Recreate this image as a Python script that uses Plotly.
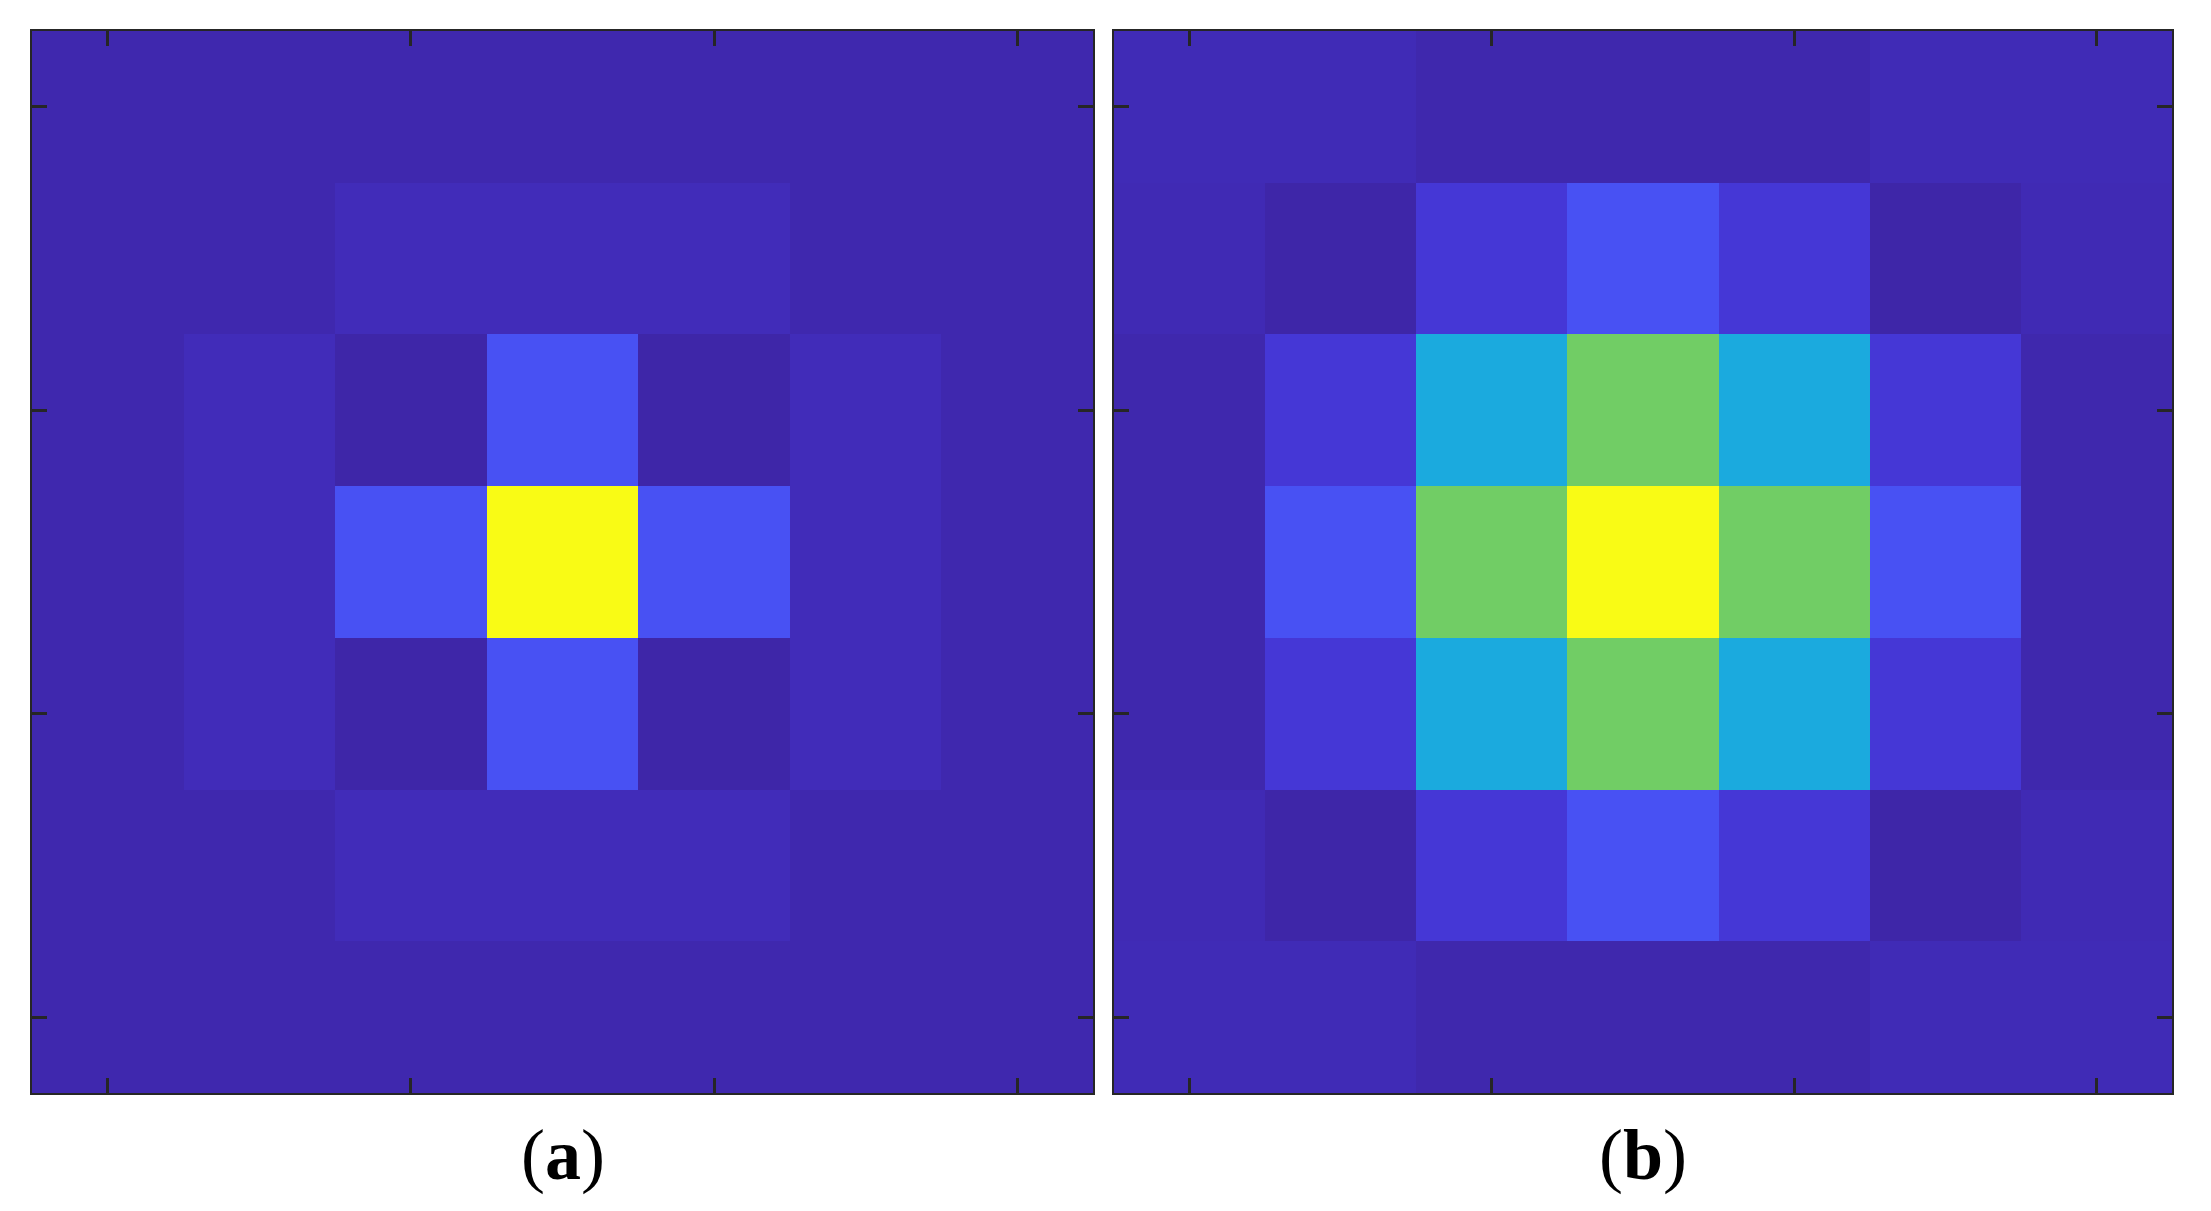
import plotly.graph_objects as go

# MATLAB parula (64 steps)
PARULA = [
    (0.2422, 0.1504, 0.6603), (0.2504, 0.1650, 0.7076), (0.2578, 0.1818, 0.7511),
    (0.2647, 0.1978, 0.7952), (0.2706, 0.2147, 0.8364), (0.2751, 0.2342, 0.8710),
    (0.2783, 0.2559, 0.8991), (0.2803, 0.2782, 0.9221), (0.2813, 0.3006, 0.9414),
    (0.2810, 0.3228, 0.9579), (0.2795, 0.3447, 0.9717), (0.2760, 0.3667, 0.9829),
    (0.2699, 0.3892, 0.9906), (0.2602, 0.4123, 0.9952), (0.2440, 0.4358, 0.9988),
    (0.2206, 0.4603, 0.9973), (0.1963, 0.4847, 0.9892), (0.1834, 0.5074, 0.9798),
    (0.1786, 0.5289, 0.9682), (0.1764, 0.5499, 0.9520), (0.1687, 0.5703, 0.9359),
    (0.1540, 0.5902, 0.9218), (0.1460, 0.6091, 0.9079), (0.1380, 0.6276, 0.8973),
    (0.1248, 0.6459, 0.8883), (0.1113, 0.6635, 0.8763), (0.0952, 0.6798, 0.8598),
    (0.0689, 0.6948, 0.8394), (0.0297, 0.7082, 0.8163), (0.0036, 0.7203, 0.7917),
    (0.0067, 0.7312, 0.7660), (0.0433, 0.7411, 0.7394), (0.0964, 0.7500, 0.7120),
    (0.1408, 0.7584, 0.6842), (0.1717, 0.7670, 0.6554), (0.1938, 0.7758, 0.6251),
    (0.2161, 0.7843, 0.5923), (0.2470, 0.7918, 0.5567), (0.2906, 0.7973, 0.5188),
    (0.3406, 0.8008, 0.4789), (0.3909, 0.8029, 0.4354), (0.4456, 0.8024, 0.3909),
    (0.5044, 0.7993, 0.3480), (0.5616, 0.7942, 0.3045), (0.6174, 0.7876, 0.2612),
    (0.6720, 0.7793, 0.2227), (0.7242, 0.7698, 0.1910), (0.7738, 0.7598, 0.1646),
    (0.8203, 0.7498, 0.1535), (0.8634, 0.7406, 0.1596), (0.9035, 0.7330, 0.1774),
    (0.9393, 0.7288, 0.2100), (0.9728, 0.7298, 0.2394), (0.9956, 0.7434, 0.2371),
    (0.9970, 0.7659, 0.2199), (0.9952, 0.7893, 0.2028), (0.9892, 0.8136, 0.1885),
    (0.9786, 0.8386, 0.1766), (0.9676, 0.8639, 0.1643), (0.9610, 0.8890, 0.1537),
    (0.9597, 0.9135, 0.1423), (0.9628, 0.9373, 0.1265), (0.9691, 0.9606, 0.1064),
    (0.9769, 0.9839, 0.0805),
]
colorscale = [
    [i / (len(PARULA) - 1), "rgb(%d,%d,%d)" % tuple(round(c * 255) for c in rgb)]
    for i, rgb in enumerate(PARULA)
]

# grid coordinates (1..7) and tick positions
cols = [1, 2, 3, 4, 5, 6, 7]
rows = [1, 2, 3, 4, 5, 6, 7]
tick_vals = [1, 3, 5, 7]
panel_labels = ["(<b>a</b>)", "(<b>b</b>)"]

# panel (a) - normalised intensity, top row first
z_a = [
    [0.008, 0.008, 0.008, 0.008, 0.008, 0.008, 0.008],
    [0.008, 0.008, 0.022, 0.022, 0.022, 0.008, 0.008],
    [0.008, 0.022, 0.000, 0.140, 0.000, 0.022, 0.008],
    [0.008, 0.022, 0.140, 1.000, 0.140, 0.022, 0.008],
    [0.008, 0.022, 0.000, 0.140, 0.000, 0.022, 0.008],
    [0.008, 0.008, 0.022, 0.022, 0.022, 0.008, 0.008],
    [0.008, 0.008, 0.008, 0.008, 0.008, 0.008, 0.008],
]

# panel (b)
z_b = [
    [0.018, 0.018, 0.006, 0.006, 0.006, 0.018, 0.018],
    [0.016, 0.000, 0.065, 0.140, 0.065, 0.000, 0.016],
    [0.006, 0.065, 0.400, 0.650, 0.400, 0.065, 0.006],
    [0.006, 0.140, 0.650, 1.000, 0.650, 0.140, 0.006],
    [0.006, 0.065, 0.400, 0.650, 0.400, 0.065, 0.006],
    [0.016, 0.000, 0.065, 0.140, 0.065, 0.000, 0.016],
    [0.018, 0.018, 0.006, 0.006, 0.006, 0.018, 0.018],
]

# page body has an 8px margin, so the figure is a bit smaller than the window
OFF = 8
W, H = 2211 - 2 * OFF, 1211 - 2 * OFF


def px_x(p):
    return (p - OFF) / W


def px_y(p):
    return 1 - (p - OFF) / H


x_doms = [[px_x(32), px_x(1093)], [px_x(1114), px_x(2172)]]
y_dom = [px_y(1093), px_y(31)]

fig = go.Figure()
for i, z in enumerate([z_a, z_b]):
    sfx = "" if i == 0 else "2"
    fig.add_trace(go.Heatmap(
        x=cols, y=rows, z=z,
        zmin=0, zmax=1,
        colorscale=colorscale,
        showscale=False,
        hoverinfo="skip",
        xaxis="x" + sfx, yaxis="y" + sfx,
    ))

axis_style = dict(
    showgrid=False, zeroline=False,
    showline=True, linecolor="#262626", linewidth=2, mirror="ticks",
    ticks="inside", ticklen=15, tickwidth=3, tickcolor="#262626",
    tickvals=tick_vals, showticklabels=False,
)

layout = dict(
    width=W, height=H,
    margin=dict(l=0, r=0, t=0, b=0),
    paper_bgcolor="white",
    plot_bgcolor="white",
    showlegend=False,
    annotations=[],
)
for i in range(2):
    sfx = "" if i == 0 else "2"
    layout["xaxis" + sfx] = dict(axis_style, domain=x_doms[i], range=[0.5, 7.5],
                                 anchor="y" + sfx)
    layout["yaxis" + sfx] = dict(axis_style, domain=y_dom, range=[7.5, 0.5],
                                 anchor="x" + sfx)
    layout["annotations"].append(dict(
        text=panel_labels[i],
        xref="paper", yref="paper",
        x=sum(x_doms[i]) / 2, y=px_y(1155),
        xanchor="center", yanchor="middle",
        showarrow=False,
        font=dict(family="Liberation Serif", size=72, color="black"),
    ))

fig.update_layout(layout)
fig.write_html("out.html")
